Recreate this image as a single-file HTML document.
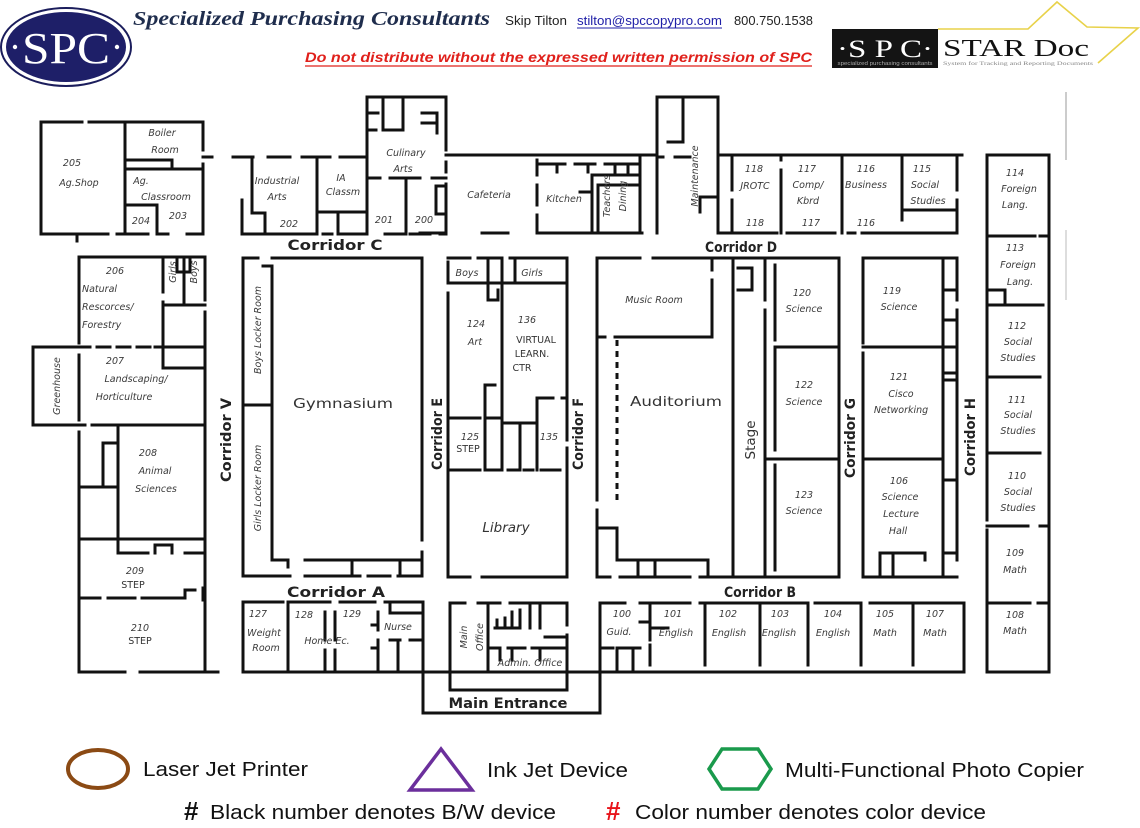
<!DOCTYPE html>
<html><head><meta charset="utf-8"><style>
html,body{margin:0;padding:0;background:#fff;}
svg{display:block;}
.r{font-family:"DejaVu Sans","Liberation Sans",sans-serif;font-style:oblique;font-size:9.5px;fill:#3a3a3a;text-anchor:middle;}
.c{font-family:"DejaVu Sans","Liberation Sans",sans-serif;font-weight:bold;font-size:14px;fill:#222;text-anchor:middle;}
.b{font-family:"DejaVu Sans","Liberation Sans",sans-serif;font-size:13.5px;fill:#333;text-anchor:middle;}
.u{font-family:"DejaVu Sans","Liberation Sans",sans-serif;font-size:9.5px;fill:#333;text-anchor:middle;}
.lg{font-family:"Liberation Sans",Arial,sans-serif;font-size:20px;fill:#111;}
</style></head><body>
<svg width="1140" height="828" viewBox="0 0 1140 828" xmlns="http://www.w3.org/2000/svg">
<rect width="1140" height="828" fill="#fff"/>

<!-- SPC oval logo -->
<ellipse cx="66" cy="47" rx="65" ry="39" fill="#fff" stroke="#1b1d5c" stroke-width="2"/>
<ellipse cx="66" cy="47" rx="60" ry="35" fill="#1e1f68"/>
<text x="66" y="63" font-family="Liberation Serif,serif" font-size="44" fill="#fff" text-anchor="middle" textLength="88" lengthAdjust="spacingAndGlyphs">SPC</text>
<circle cx="15" cy="47" r="2.2" fill="#fff"/><circle cx="117" cy="47" r="2.2" fill="#fff"/>

<text x="133" y="25" font-family="Liberation Serif,serif" font-weight="bold" font-style="italic" font-size="20" fill="#1f2d4d" textLength="357" lengthAdjust="spacingAndGlyphs">Specialized Purchasing Consultants</text>
<text x="505" y="25" font-family="Liberation Sans,sans-serif" font-size="13" fill="#222" textLength="62" lengthAdjust="spacingAndGlyphs">Skip Tilton</text>
<text x="577" y="25" font-family="Liberation Sans,sans-serif" font-size="13" fill="#2020a8" textLength="145" lengthAdjust="spacingAndGlyphs">stilton@spccopypro.com</text>
<line x1="577" y1="28" x2="722" y2="28" stroke="#2020a8" stroke-width="1"/>
<text x="734" y="25" font-family="Liberation Sans,sans-serif" font-size="13" fill="#222" textLength="79" lengthAdjust="spacingAndGlyphs">800.750.1538</text>
<text x="305" y="62" font-family="Liberation Sans,sans-serif" font-weight="bold" font-style="italic" font-size="14" fill="#e0201b" textLength="507" lengthAdjust="spacingAndGlyphs">Do not distribute without the expressed written permission of SPC</text>
<line x1="305" y1="66" x2="812" y2="66" stroke="#e0201b" stroke-width="1.2"/>

<!-- STAR Doc logo -->
<polyline points="938,29 1028,29 1057,2 1087,27 1138,28 1098,63" fill="none" stroke="#e8d24a" stroke-width="1.6"/>
<rect x="832" y="29" width="106" height="39" fill="#141414"/>
<text x="885" y="57" font-family="Liberation Serif,serif" font-size="25" fill="#fff" text-anchor="middle" textLength="96" lengthAdjust="spacingAndGlyphs">·S P C·</text>
<text x="885" y="65" font-family="Liberation Sans,sans-serif" font-size="5" fill="#aaa" text-anchor="middle" textLength="95" lengthAdjust="spacingAndGlyphs">specialized purchasing consultants</text>
<text x="943" y="56" font-family="Liberation Serif,serif" font-size="24" fill="#111" textLength="146" lengthAdjust="spacingAndGlyphs">STAR Doc</text>
<text x="943" y="65" font-family="Liberation Serif,serif" font-size="5" fill="#888" textLength="150" lengthAdjust="spacingAndGlyphs">System for Tracking and Reporting Documents</text>

<line x1="1066" y1="92" x2="1066" y2="160" stroke="#ccc" stroke-width="2"/>
<line x1="1066" y1="230" x2="1066" y2="300" stroke="#ddd" stroke-width="2"/>

<!-- WALLS -->
<path fill="none" stroke="#111" stroke-width="3" stroke-linecap="square" d="
M41 122 H82 M89 122 H203 M41 122 V234 M203 122 V150 M203 164 V234 M203 157 H212
M41 234 H108 M117 234 H122 M126 234 H148 M158 234 H168 M187 234 H203 M77 234 V241
M125 122 V234 M125 160 H172 V168 M125 169 H203 M125 205 H157 V234
M233 157 H253 M268 157 H290 M302 157 H330 M340 157 H367
M252 157 V213 H265 V234 M242 200 V234
M242 234 H317 M323 234 H332 M338 234 H367 M385 234 H403 M410 234 H430 M440 234 H446
M317 157 V234 M317 212 H367 M338 212 V234
M367 234 V97 H446 V150 M446 162 V172 M446 184 V234
M367 178 H380 M390 178 H420 M432 178 H446 M406 178 V234
M383 97 V130 H403 V97 M368 113 H378 M368 130 H376
M422 113 H437 V133 M422 123 H437 M436 186 H446 M436 186 V214 H446
M446 155 H655
M482 233 H508 M537 233 H642 M420 233 H446
M537 160 V175 M537 185 V205 M537 215 V233
M537 164 H565 M557 164 V172 M575 164 H595 M588 164 V172 M605 164 H640 M615 164 V172 M628 164 V172
M592 175 V233 M592 175 H640 M598 185 H640 M598 185 V233 M580 192 H592
M640 158 V233
M657 233 V97 H718 V233 M683 97 V142 H668 M657 157 H663 M675 157 H690 M700 197 H718 M700 197 V212
M718 155 H962 M732 155 V190 M732 200 V233
M718 233 H777 M787 233 H835 M848 233 H855 M862 233 H957
M781 155 V160 M781 170 V233 M842 155 V233 M902 155 V220 M902 210 H957 M957 155 V190 M957 200 V233
M987 155 H1049 V672 H987 V530 M987 520 V155
M987 236 H1035 M1040 236 H1049 M987 305 H1043 M987 290 H1005 V305 M987 377 H1040 M987 453 H1040
M987 526 H1028 M1040 526 H1049 M987 603 H1030 M1038 603 H1049
M79 257 H205 M79 257 V343 M79 355 V420 M79 432 V672 M205 257 V300 M205 312 V672
M163 257 V292 M163 302 V368 M163 305 H205 M184 257 V305 M177 257 V272 H190 V257
M79 347 H90 M97 347 H110 M117 347 H130 M137 347 H150 M155 347 H205 M163 368 H205
M33 347 H79 M33 347 V425 H79 M79 425 H85 M92 425 H205
M118 425 V553 M103 443 H118 M103 443 V487 M79 487 H118
M79 539 H205 M118 539 V553 H148 M155 545 H172 M155 545 V553 M172 545 V553 M185 553 H205
M79 598 H100 M108 598 H135 M142 598 H185 V590 H195 M203 588 V600
M79 672 H125 M140 672 H218
M243 258 H258 M272 258 H422 M243 258 V576 M422 258 V540 M422 552 V576
M272 268 V560 M263 266 H272 M243 405 H272
M272 560 H288 V567 M305 560 H422 M352 560 V576 M400 560 V576
M243 576 H290 M305 576 H360 M368 576 H390 M398 576 H422
M243 602 H283 M290 602 H330 M340 602 H375 M385 602 H423 M243 602 V672 M288 602 V672
M325 612 V640 M325 650 V672 M335 612 V640 M335 650 V672
M378 612 V630 M372 625 H378 M378 640 V672 M372 648 H378
M390 602 V613 H423 M390 640 H400 M410 640 H423 M398 640 V672 M423 602 V713
M450 603 H465 M478 603 H500 M510 603 H567 M450 603 V672 M567 603 V625 M567 635 V672 M488 603 V672
M495 628 H520 M497 620 V628 M505 618 V628 M512 612 V628 M520 610 V628 M530 603 V628 M540 603 V628
M545 637 H567 M490 648 H500 M508 648 H525 M532 648 H567 M500 650 V660 M512 650 V660 M540 650 V660
M423 713 H600 V603 M450 672 V690 H567 V672
M448 258 H470 M478 258 H500 M510 258 H567 M448 262 V283 M448 293 V577
M567 258 V440 M567 448 V577 M448 283 H567
M488 258 V300 H498 V290 M502 258 V470 M515 258 V283
M448 418 H480 M485 418 H502 M485 385 V470 M485 385 H495
M502 423 H537 M520 423 V470 M537 398 V470 M537 398 H553 M562 398 H567
M448 470 H480 M488 470 H500 M508 470 H517 M524 470 H533 M541 470 H560
M448 577 H470 M482 577 H567
M597 258 H640 M653 258 H733 M597 258 V500 M597 510 V577
M712 258 V270 M712 280 V337 M597 337 H605 M615 337 H712
M597 528 H617 V560 H708 V577 M638 560 V577 M655 560 V577
M597 577 H610 M620 577 H690 M700 577 H733
M733 258 V577 M733 258 H839 M733 577 H839
M765 258 V300 M765 310 V577 M775 265 V340 M775 350 V450 M775 465 V570
M839 258 V577 M775 347 H839 M765 459 H839
M738 268 H752 V290 M738 290 H752
M863 258 H957 M863 258 V343 M863 353 V577 M943 258 V577 M957 258 V300 M957 310 V560
M863 347 H957 M863 459 H943
M880 553 H925 M880 553 V577 M893 553 V577 M925 553 V560
M863 577 H943 M945 577 H957
M943 290 H957 M943 320 H957 M943 373 H957 M943 380 H957 M943 480 H957 M943 553 H957
M600 603 H625 M640 603 H690 M700 603 H805 M815 603 H860 M870 603 H964 M964 603 V672
M650 603 V640 M640 622 H650 M650 628 H668
M600 648 H613 M620 648 H640 M617 648 V672 M633 648 V672 M650 645 V665
M705 603 V665 M760 603 V665 M808 603 V665 M861 603 V665 M913 603 V665
M243 672 H964
"/>
<path d="M617 340 V500" stroke="#111" stroke-width="3" stroke-dasharray="6 5" fill="none"/>

<!-- ROOM LABELS -->
<text class="r" x="72" y="166">205</text><text class="r" x="79" y="186">Ag.Shop</text>
<text class="r" x="162" y="136">Boiler</text><text class="r" x="165" y="153">Room</text>
<text class="r" x="141" y="184">Ag.</text><text class="r" x="166" y="200">Classroom</text>
<text class="r" x="141" y="224">204</text><text class="r" x="178" y="219">203</text>
<text class="r" x="277" y="184">Industrial</text><text class="r" x="277" y="200">Arts</text>
<text class="r" x="341" y="181" font-size="8">IA</text><text class="r" x="343" y="195" font-size="8">Classm</text>
<text class="r" x="406" y="156">Culinary</text><text class="r" x="403" y="172">Arts</text>
<text class="r" x="289" y="227">202</text><text class="r" x="384" y="223">201</text><text class="r" x="424" y="223">200</text>
<text class="r" x="489" y="198">Cafeteria</text><text class="r" x="564" y="202">Kitchen</text>
<text class="r" font-size="8" transform="translate(610,196) rotate(-90)">Teachers</text>
<text class="r" font-size="8" transform="translate(626,196) rotate(-90)">Dining</text>
<text class="r" transform="translate(698,176) rotate(-90)">Maintenance</text>
<text class="r" x="754" y="172">118</text><text class="r" x="755" y="189">JROTC</text><text class="r" x="755" y="226">118</text>
<text class="r" x="807" y="172">117</text><text class="r" x="808" y="188">Comp/</text><text class="r" x="808" y="204">Kbrd</text><text class="r" x="811" y="226">117</text>
<text class="r" x="866" y="172">116</text><text class="r" x="866" y="188">Business</text><text class="r" x="866" y="226">116</text>
<text class="r" x="922" y="172">115</text><text class="r" x="925" y="188">Social</text><text class="r" x="928" y="204">Studies</text>
<text class="r" x="1015" y="176">114</text><text class="r" x="1019" y="192">Foreign</text><text class="r" x="1015" y="208">Lang.</text>
<text class="r" x="1015" y="251">113</text><text class="r" x="1018" y="268">Foreign</text><text class="r" x="1020" y="285">Lang.</text>
<text class="r" x="1017" y="329">112</text><text class="r" x="1018" y="345">Social</text><text class="r" x="1018" y="361">Studies</text>
<text class="r" x="1017" y="403">111</text><text class="r" x="1018" y="418">Social</text><text class="r" x="1018" y="434">Studies</text>
<text class="r" x="1017" y="479">110</text><text class="r" x="1018" y="495">Social</text><text class="r" x="1018" y="511">Studies</text>
<text class="r" x="1015" y="556">109</text><text class="r" x="1015" y="573">Math</text>
<text class="r" x="1015" y="618">108</text><text class="r" x="1015" y="634">Math</text>
<text class="r" x="115" y="274">206</text>
<text class="r" x="82" y="292" style="text-anchor:start">Natural</text>
<text class="r" x="82" y="310" style="text-anchor:start">Rescorces/</text>
<text class="r" x="82" y="328" style="text-anchor:start">Forestry</text>
<text class="r" font-size="8" transform="translate(176,272) rotate(-90)">Girls</text>
<text class="r" font-size="8" transform="translate(197,272) rotate(-90)">Boys</text>
<text class="r" transform="translate(60,386) rotate(-90)">Greenhouse</text>
<text class="r" x="115" y="364">207</text><text class="r" x="136" y="382">Landscaping/</text><text class="r" x="124" y="400">Horticulture</text>
<text class="r" x="148" y="456">208</text><text class="r" x="155" y="474">Animal</text><text class="r" x="156" y="492">Sciences</text>
<text class="r" x="135" y="574">209</text><text class="u" x="133" y="588">STEP</text>
<text class="r" x="140" y="631">210</text><text class="u" x="140" y="644">STEP</text>
<text class="r" font-size="8.5" transform="translate(261,330) rotate(-90)">Boys Locker Room</text>
<text class="r" font-size="8.5" transform="translate(261,488) rotate(-90)">Girls Locker Room</text>
<text class="b" x="343" y="408" textLength="100" lengthAdjust="spacingAndGlyphs">Gymnasium</text>
<text class="r" x="467" y="276">Boys</text><text class="r" x="532" y="276">Girls</text>
<text class="r" x="476" y="327">124</text><text class="r" x="475" y="345">Art</text>
<text class="r" x="527" y="323">136</text>
<text class="u" x="536" y="343">VIRTUAL</text><text class="u" x="532" y="357">LEARN.</text><text class="u" x="522" y="371">CTR</text>
<text class="r" x="470" y="440">125</text><text class="u" x="468" y="452">STEP</text>
<text class="r" x="549" y="440">135</text>
<text class="b" x="506" y="532" font-style="oblique">Library</text>
<text class="r" x="654" y="303">Music Room</text>
<text class="b" x="676" y="406" textLength="92" lengthAdjust="spacingAndGlyphs">Auditorium</text>
<text class="b" font-size="13" transform="translate(755,440) rotate(-90)">Stage</text>
<text class="r" x="802" y="296">120</text><text class="r" x="804" y="312">Science</text>
<text class="r" x="804" y="388">122</text><text class="r" x="804" y="405">Science</text>
<text class="r" x="804" y="498">123</text><text class="r" x="804" y="514">Science</text>
<text class="r" x="892" y="294">119</text><text class="r" x="899" y="310">Science</text>
<text class="r" x="899" y="380">121</text><text class="r" x="901" y="397">Cisco</text><text class="r" x="901" y="413">Networking</text>
<text class="r" x="899" y="484">106</text><text class="r" x="900" y="500">Science</text><text class="r" x="901" y="517">Lecture</text><text class="r" x="898" y="534">Hall</text>
<text class="r" x="258" y="617">127</text><text class="r" x="264" y="636">Weight</text><text class="r" x="266" y="651">Room</text>
<text class="r" x="304" y="618">128</text><text class="r" x="352" y="617">129</text>
<text class="r" x="327" y="644">Home Ec.</text><text class="r" x="398" y="630" font-size="8.5">Nurse</text>
<text class="r" transform="translate(467,637) rotate(-90)">Main</text>
<text class="r" transform="translate(483,637) rotate(-90)">Office</text>
<text class="r" x="530" y="666" font-size="6.5">Admin. Office</text>
<text class="r" x="622" y="617">100</text><text class="r" x="619" y="635">Guid.</text>
<text class="r" x="673" y="617">101</text><text class="r" x="676" y="636">English</text>
<text class="r" x="728" y="617">102</text><text class="r" x="729" y="636">English</text>
<text class="r" x="780" y="617">103</text><text class="r" x="779" y="636">English</text>
<text class="r" x="833" y="617">104</text><text class="r" x="833" y="636">English</text>
<text class="r" x="885" y="617">105</text><text class="r" x="885" y="636">Math</text>
<text class="r" x="935" y="617">107</text><text class="r" x="935" y="636">Math</text>

<!-- CORRIDORS -->
<text class="c" x="335" y="250" textLength="95" lengthAdjust="spacingAndGlyphs">Corridor  C</text>
<text class="c" x="741" y="252" textLength="72" lengthAdjust="spacingAndGlyphs">Corridor  D</text>
<text class="c" x="336" y="597" textLength="98" lengthAdjust="spacingAndGlyphs">Corridor  A</text>
<text class="c" x="760" y="597" textLength="72" lengthAdjust="spacingAndGlyphs">Corridor  B</text>
<text class="c" transform="translate(231,440) rotate(-90)" textLength="84" lengthAdjust="spacingAndGlyphs">Corridor  V</text>
<text class="c" transform="translate(442,434) rotate(-90)" textLength="72" lengthAdjust="spacingAndGlyphs">Corridor  E</text>
<text class="c" transform="translate(583,434) rotate(-90)" textLength="72" lengthAdjust="spacingAndGlyphs">Corridor  F</text>
<text class="c" transform="translate(855,438) rotate(-90)" textLength="80" lengthAdjust="spacingAndGlyphs">Corridor  G</text>
<text class="c" transform="translate(975,437) rotate(-90)" textLength="78" lengthAdjust="spacingAndGlyphs">Corridor  H</text>
<text class="c" x="508" y="708" textLength="119" lengthAdjust="spacingAndGlyphs">Main Entrance</text>

<!-- LEGEND -->
<ellipse cx="98" cy="769" rx="30" ry="19" fill="none" stroke="#8b4a14" stroke-width="4"/>
<text class="lg" x="143" y="776" textLength="165" lengthAdjust="spacingAndGlyphs">Laser Jet Printer</text>
<polygon points="441,749 410,790 472,790" fill="none" stroke="#6b2f9c" stroke-width="3.5" stroke-linejoin="miter"/>
<text class="lg" x="487" y="777" textLength="141" lengthAdjust="spacingAndGlyphs">Ink Jet Device</text>
<polygon points="722,749 758,749 771,769 758,789 722,789 709,769" fill="none" stroke="#1a9a4c" stroke-width="3.5"/>
<text class="lg" x="785" y="777" textLength="299" lengthAdjust="spacingAndGlyphs">Multi-Functional Photo Copier</text>
<text x="184" y="820" font-family="Liberation Sans,sans-serif" font-weight="bold" font-size="26" fill="#111">#</text>
<text class="lg" x="210" y="819" textLength="346" lengthAdjust="spacingAndGlyphs">Black number denotes B/W device</text>
<text x="606" y="820" font-family="Liberation Sans,sans-serif" font-weight="bold" font-size="26" fill="#e8141a">#</text>
<text class="lg" x="635" y="819" textLength="351" lengthAdjust="spacingAndGlyphs">Color number denotes color device</text>
</svg>
</body></html>
